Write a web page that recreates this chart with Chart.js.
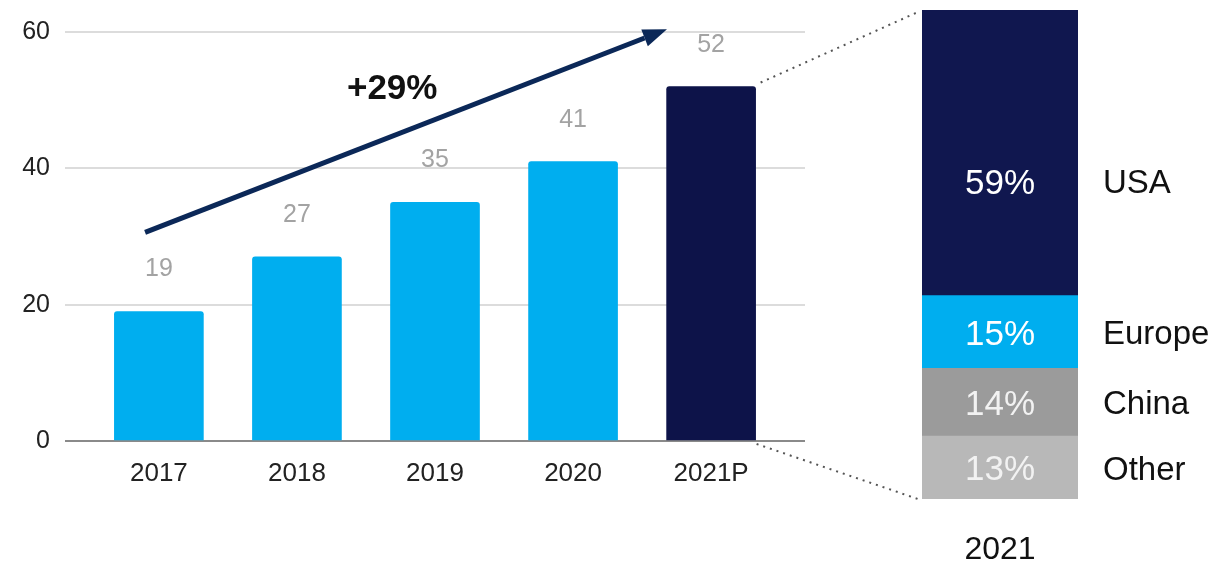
<!DOCTYPE html>
<html>
<head>
<meta charset="utf-8">
<script src="https://cdn.jsdelivr.net/npm/chart.js@4/dist/chart.umd.min.js"></script>
<style>
  html, body { margin: 0; padding: 0; background: #fff; }
  #wrap { position: relative; width: 1217px; height: 563px; }
  #growth { position: absolute; left: 0; top: 0; }
  #split { position: absolute; left: 860px; top: 0; }
</style>
</head>
<body>
<div id="wrap">
  <canvas id="growth" width="1217" height="563"></canvas>
  <canvas id="split" width="357" height="563"></canvas>
</div>
<script>
  // Dữ liệu biểu đồ
  const years = ['2017', '2018', '2019', '2020', '2021P'];
  const revenue = [19, 27, 35, 41, 52];
  const yTicks = [0, 20, 40, 60];
  const growthLabel = '+29%';
  const regions = ['USA', 'Europe', 'China', 'Other'];
  const regionShares = [59, 15, 14, 13];
  const splitYear = '2021';

  const FONT = "'Liberation Sans', Arial, sans-serif";
  const CYAN = '#00aeef';
  const NAVY = '#0d1349';
  const regionColors = ['#10174f', '#00aeef', '#9b9b9b', '#b8b8b8'];
  const shareTextColors = ['#ffffff', '#ffffff', '#f2f2f2', '#f2f2f2'];

  // Nhãn phần trăm và tên khu vực cho cột chồng
  const splitLabels = {
    id: 'splitLabels',
    afterDatasetsDraw(chart) {
      const { ctx, chartArea } = chart;
      ctx.save();
      ctx.textBaseline = 'middle';
      chart.data.datasets.forEach((ds, i) => {
        const bar = chart.getDatasetMeta(i).data[0];
        const top = Math.min(bar.y, bar.base);
        const bottom = Math.max(bar.y, bar.base);
        const k = ds.isTop ? 0.6 : 0.5;
        const y = top + (bottom - top) * k + 3;
        ctx.textAlign = 'center';
        ctx.fillStyle = ds.textColor;
        ctx.font = `35px ${FONT}`;
        ctx.fillText(ds.data[0] + '%', bar.x, y);
        ctx.textAlign = 'left';
        ctx.fillStyle = '#111';
        ctx.font = `33px ${FONT}`;
        ctx.fillText(ds.label, chartArea.right + 25, y);
      });
      ctx.restore();
    }
  };

  // Cột chồng theo khu vực (vẽ từ dưới lên, USA ở trên cùng)
  const order = regions.map((_, i) => i).reverse();
  const splitChart = new Chart(document.getElementById('split').getContext('2d'), {
    type: 'bar',
    data: {
      labels: [splitYear],
      datasets: order.map(i => ({
        label: regions[i],
        data: [regionShares[i]],
        backgroundColor: regionColors[i],
        textColor: shareTextColors[i],
        isTop: i === 0,
        barPercentage: 1,
        categoryPercentage: 1
      }))
    },
    options: {
      responsive: false,
      animation: false,
      layout: { padding: { left: 62, right: 139, top: 10, bottom: 0 } },
      plugins: { legend: { display: false }, tooltip: { enabled: false } },
      scales: {
        x: {
          stacked: true,
          grid: { display: false },
          border: { display: false },
          ticks: { color: '#111', font: { family: FONT, size: 32 }, padding: 24 },
          afterFit(scale) { scale.height = 64; }
        },
        y: {
          stacked: true,
          display: false,
          min: 0,
          max: regionShares.reduce((a, b) => a + b, 0)
        }
      }
    },
    plugins: [splitLabels]
  });

  // Nhãn giá trị, mũi tên tăng trưởng và đường nối sang cột chồng
  const growthNotes = {
    id: 'growthNotes',
    afterDatasetsDraw(chart) {
      const { ctx, scales: { x, y } } = chart;
      const meta = chart.getDatasetMeta(0);
      ctx.save();

      ctx.font = `25px ${FONT}`;
      ctx.fillStyle = '#a3a3a3';
      ctx.textAlign = 'center';
      ctx.textBaseline = 'alphabetic';
      meta.data.forEach((bar, i) => ctx.fillText(revenue[i], bar.x, bar.y - 35));

      // mũi tên
      const x0 = x.getPixelForValue(-0.1), y0 = y.getPixelForValue(30.6);
      const x1 = x.getPixelForValue(3.68), y1 = y.getPixelForValue(60.4);
      const ang = Math.atan2(y1 - y0, x1 - x0);
      const head = 24, half = 9;
      const bx = x1 - head * Math.cos(ang), by = y1 - head * Math.sin(ang);
      ctx.strokeStyle = '#0b2858';
      ctx.fillStyle = '#0b2858';
      ctx.lineWidth = 5;
      ctx.beginPath();
      ctx.moveTo(x0, y0);
      ctx.lineTo(bx, by);
      ctx.stroke();
      ctx.beginPath();
      ctx.moveTo(x1, y1);
      ctx.lineTo(bx + half * Math.sin(ang), by - half * Math.cos(ang));
      ctx.lineTo(bx - half * Math.sin(ang), by + half * Math.cos(ang));
      ctx.closePath();
      ctx.fill();

      ctx.font = `bold 35px ${FONT}`;
      ctx.fillStyle = '#111';
      ctx.textBaseline = 'middle';
      ctx.fillText(growthLabel, x.getPixelForValue(1.69), y.getPixelForValue(51.6));

      // đường chấm nối cột 2021P với cột chồng
      const last = meta.data[meta.data.length - 1];
      const right = last.x + last.width / 2;
      const off = document.getElementById('split').offsetLeft;
      const area = splitChart.chartArea;
      ctx.strokeStyle = '#555';
      ctx.lineWidth = 2;
      ctx.setLineDash([2, 5]);
      ctx.beginPath();
      ctx.moveTo(right + 5, last.y - 4);
      ctx.lineTo(off + area.left - 4, area.top + 2);
      ctx.moveTo(right + 1, y.getPixelForValue(0) + 3);
      ctx.lineTo(off + area.left - 4, area.bottom);
      ctx.stroke();
      ctx.restore();
    }
  };

  new Chart(document.getElementById('growth').getContext('2d'), {
    type: 'bar',
    data: {
      datasets: [{
        data: revenue.map((v, i) => ({ x: i, y: v })),
        backgroundColor: years.map((_, i) => i === years.length - 1 ? NAVY : CYAN),
        barThickness: 89,
        borderRadius: { topLeft: 3, topRight: 3 },
        borderSkipped: 'bottom'
      }]
    },
    options: {
      responsive: false,
      animation: false,
      layout: { padding: { left: 0, right: 412, top: 32, bottom: 0 } },
      plugins: { legend: { display: false }, tooltip: { enabled: false } },
      scales: {
        x: {
          type: 'linear',
          offset: false,
          min: -0.68,
          max: 4.68,
          grid: { display: false },
          border: { display: false },
          afterBuildTicks(axis) { axis.ticks = years.map((_, i) => ({ value: i })); },
          ticks: {
            color: '#222',
            font: { family: FONT, size: 26 },
            padding: 9,
            callback: v => years[v]
          },
          afterFit(scale) { scale.height = 122; }
        },
        y: {
          min: 0,
          max: 60,
          afterBuildTicks(axis) { axis.ticks = yTicks.map(v => ({ value: v })); },
          grid: {
            drawTicks: false,
            lineWidth: 2,
            color: c => c.tick.value === 0 ? '#8a8a8a' : '#dcdcdc'
          },
          border: { display: false },
          ticks: { color: '#222', font: { family: FONT, size: 25 }, padding: 15 },
          afterFit(scale) { scale.width = 65; }
        }
      }
    },
    plugins: [growthNotes]
  });
</script>
</body>
</html>
